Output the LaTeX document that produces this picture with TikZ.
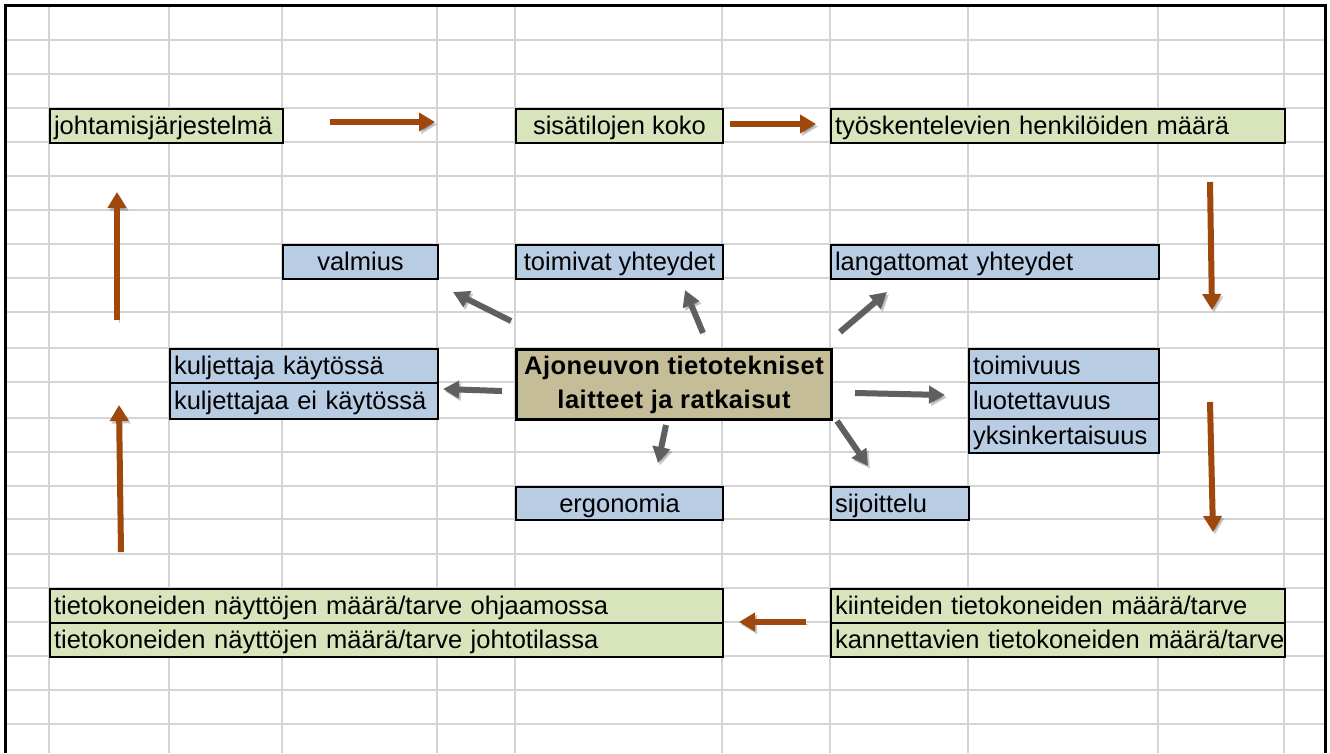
\documentclass[tikz,border=0pt]{standalone}
\usepackage{fontspec}
\setmainfont{Liberation Sans}
\usetikzlibrary{arrows.meta}
\definecolor{gridgray}{HTML}{D4D4D4}
\definecolor{cellgreen}{HTML}{D8E4BC}
\definecolor{cellblue}{HTML}{B8CCE4}
\definecolor{celltan}{HTML}{C4BD97}
\definecolor{flowbrown}{HTML}{9E480E}
\definecolor{spokegray}{HTML}{5F5F5F}
\begin{document}
\begin{tikzpicture}[x=1pt,y=-1pt,
  gridline/.style={draw=gridgray, line width=2pt},
  cell/.style={draw=black, line width=2pt, inner xsep=4pt, inner ysep=0pt,
    anchor=north west, minimum height=34pt, text height=20pt, text depth=3pt,
    font=\fontsize{25.5}{34}\selectfont},
  green/.style={cell, fill=cellgreen},
  blue/.style={cell, fill=cellblue},
  lefttext/.style={text width=#1, align=left},
  midtext/.style={minimum width=#1, align=center},
  tall/.style={minimum height=36pt},
  hub/.style={draw=black, line width=3pt, fill=celltan, anchor=north west,
    minimum width=315pt, minimum height=70pt, inner sep=0pt, align=center,
    font=\fontsize{25.5}{34}\selectfont\bfseries\addfontfeatures{LetterSpace=2}},
  soft shadow/.style={preaction={draw=black, opacity=0.22,
    transform canvas={xshift=2pt, yshift=-2.5pt}}},
  flow/.style={soft shadow, draw=flowbrown, line width=6pt,
    -{Triangle[width=18pt,length=16pt]}},
  spoke/.style={soft shadow, draw=spokegray, line width=6pt,
    -{Triangle[width=17pt,length=16pt]}},
]
\useasboundingbox (0,0) rectangle (1330,753);
\fill[white] (0,0) rectangle (1330,753);

% worksheet grid
\foreach \x in {49,169,282,437,515,722,830,968,1158,1284}
  \draw[gridline] (\x,5) -- (\x,753);
\foreach \y in {40,74,108,142,176,210,244,278,312,348,382,418,452,486,519,554,588,622,656,690,724}
  \draw[gridline] (5,\y) -- (1325,\y);

% outer frame, open at the bottom
\draw[line width=3pt] (5,753) -- (5,5) -- (1325,5) -- (1325,753);

% outer loop cells
\node[green, lefttext=225pt] (johto) at (49,108) {johtamisjärjestelmä};
\node[green, midtext=207pt] (sisa) at (515,108) {sisätilojen koko};
\node[green, lefttext=446pt] (tyos) at (830,108) {työskentelevien henkilöiden määrä};
\node[green, lefttext=665pt] (naytto1) at (49,588) {tietokoneiden näyttöjen määrä/tarve ohjaamossa};
\node[green, lefttext=665pt] (naytto2) at (49,622) {tietokoneiden näyttöjen määrä/tarve johtotilassa};
\node[green, lefttext=446pt] (kiint) at (830,588) {kiinteiden tietokoneiden määrä/tarve};
\node[green, lefttext=446pt] (kann) at (830,622) {\mbox{kannettavien tietokoneiden määrä/tarve}};

% centre and its properties
\node[hub] (hub) at (515,348) {Ajoneuvon tietotekniset\\laitteet ja ratkaisut};
\node[blue, midtext=155pt] (valm) at (282,244) {valmius};
\node[blue, midtext=207pt] (toimyht) at (515,244) {toimivat yhteydet};
\node[blue, lefttext=320pt] (langyht) at (830,244) {langattomat yhteydet};
\node[blue, lefttext=260pt] (kulj1) at (169,348) {kuljettaja käytössä};
\node[blue, lefttext=260pt, tall] (kulj2) at (169,382) {kuljettajaa ei käytössä};
\node[blue, lefttext=182pt] (toimiv) at (968,348) {toimivuus};
\node[blue, lefttext=182pt, tall] (luot) at (968,382) {luotettavuus};
\node[blue, lefttext=182pt] (yksin) at (968,418) {yksinkertaisuus};
\node[blue, midtext=207pt, minimum height=33pt] (ergo) at (515,486) {ergonomia};
\node[blue, lefttext=130pt, minimum height=33pt] (sijo) at (830,486) {sijoittelu};

% end points of the loop arrows
\coordinate (f1a) at (330,122);  \coordinate (f1b) at (435,122);
\coordinate (f2a) at (730,124);  \coordinate (f2b) at (816,124);
\coordinate (f3a) at (1210,182); \coordinate (f3b) at (1212,310);
\coordinate (f4a) at (1210,402); \coordinate (f4b) at (1213,532);
\coordinate (f5a) at (806,622);  \coordinate (f5b) at (739,622);
\coordinate (f6a) at (121,552);  \coordinate (f6b) at (119,405);
\coordinate (f7a) at (117,320);  \coordinate (f7b) at (117,192);

% end points of the spokes
\coordinate (s1a) at (511,321);  \coordinate (s1b) at (453,292);
\coordinate (s2a) at (703,333);  \coordinate (s2b) at (685,290);
\coordinate (s3a) at (840,332);  \coordinate (s3b) at (887,292);
\coordinate (s4a) at (502,391);  \coordinate (s4b) at (443,389);
\coordinate (s5a) at (855,393);  \coordinate (s5b) at (945,395);
\coordinate (s6a) at (666,425);  \coordinate (s6b) at (658,463);
\coordinate (s7a) at (837,421);  \coordinate (s7b) at (868,466);

\foreach \i in {1,...,7} \draw[flow] (f\i a) -- (f\i b);
\foreach \i in {1,...,7} \draw[spoke] (s\i a) -- (s\i b);
\end{tikzpicture}
\end{document}
